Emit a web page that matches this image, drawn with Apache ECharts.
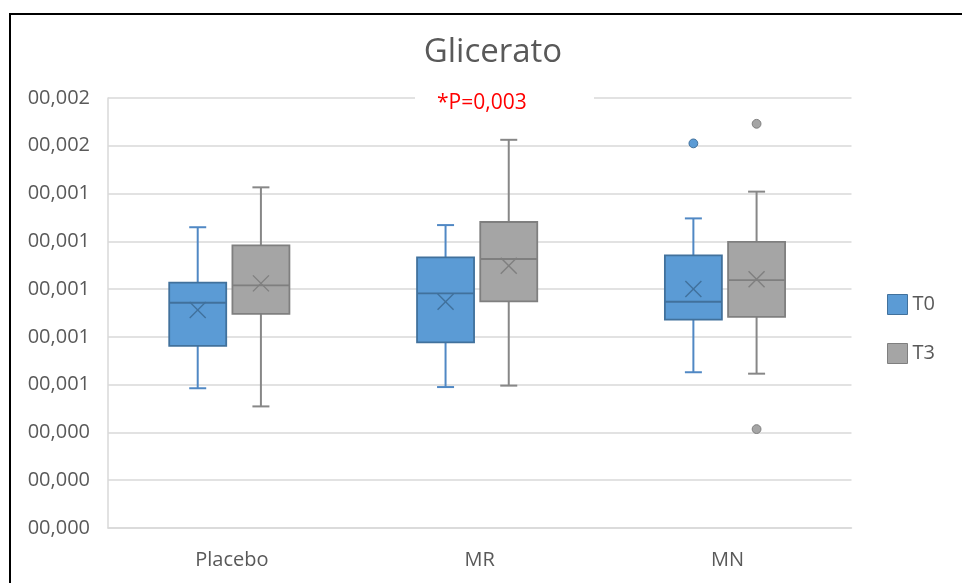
<!DOCTYPE html>
<html>
<head>
<meta charset="utf-8">
<script src="https://cdn.jsdelivr.net/npm/echarts@6/dist/echarts.min.js"></script>
<style>html,body{margin:0;padding:0;background:#fff;}#chart{width:962px;height:583px;}</style>
</head>
<body>
<div id="chart"></div>
<script>
// ---- data ----
const categories = ['Placebo', 'MR', 'MN'];
const yTickLabels = ['00,000', '00,000', '00,000', '00,001', '00,001', '00,001', '00,001', '00,001', '00,002', '00,002'];

const t0Min    = [0.000585, 0.000590, 0.000652];
const t0Q1     = [0.000762, 0.000777, 0.000872];
const t0Median = [0.000943, 0.000982, 0.000947];
const t0Q3     = [0.001027, 0.001133, 0.001141];
const t0Max    = [0.001259, 0.001268, 0.001296];
const t0Mean   = [0.000913, 0.000947, 0.001000];
const t0Outliers = [[2, 0.001610]];

const t3Min    = [0.000509, 0.000596, 0.000646];
const t3Q1     = [0.000896, 0.000949, 0.000884];
const t3Median = [0.001016, 0.001126, 0.001038];
const t3Q3     = [0.001183, 0.001281, 0.001198];
const t3Max    = [0.001426, 0.001625, 0.001408];
const t3Mean   = [0.001024, 0.001098, 0.001041];
const t3Outliers = [[2, 0.001692], [2, 0.000414]];

const annotation = '*P=0,003';

// ---- build ----
function rows(mn, q1, md, q3, mx, mean) {
  return categories.map((c, i) => [i, mn[i], q1[i], md[i], q3[i], mx[i], mean[i]]);
}

const FONT = '"Open Sans", "Noto Sans", sans-serif';
const styles = {
  T0: { fill: '#5b9bd5', border: '#41719c', whisker: '#5088c4', mean: '#41719c', offset: -34.2 },
  T3: { fill: '#a5a5a5', border: '#7f7f7f', whisker: '#878787', mean: '#7f7f7f', offset: 29 }
};

function boxRenderer(st) {
  return function (params, api) {
    const cat = api.value(0);
    const cx = api.coord([cat, 0])[0] + st.offset;
    const y = k => api.coord([cat, api.value(k)])[1];
    const yMin = y(1), yQ1 = y(2), yMed = y(3), yQ3 = y(4), yMax = y(5), yMean = y(6);
    const bw = 57, cap = 17, m = 8;
    const lineW = { stroke: st.whisker, lineWidth: 2 };
    return {
      type: 'group',
      children: [
        { type: 'line', shape: { x1: cx, y1: yMax, x2: cx, y2: yQ3 }, style: lineW },
        { type: 'line', shape: { x1: cx, y1: yQ1, x2: cx, y2: yMin }, style: lineW },
        { type: 'line', shape: { x1: cx - cap / 2, y1: yMax, x2: cx + cap / 2, y2: yMax }, style: lineW },
        { type: 'line', shape: { x1: cx - cap / 2, y1: yMin, x2: cx + cap / 2, y2: yMin }, style: lineW },
        { type: 'rect', shape: { x: cx - bw / 2, y: yQ3, width: bw, height: yQ1 - yQ3 },
          style: { fill: st.fill, stroke: st.border, lineWidth: 1.8 } },
        { type: 'line', shape: { x1: cx - bw / 2, y1: yMed, x2: cx + bw / 2, y2: yMed },
          style: { stroke: st.border, lineWidth: 1.8 } },
        { type: 'line', shape: { x1: cx - m, y1: yMean - m, x2: cx + m, y2: yMean + m },
          style: { stroke: st.mean, lineWidth: 1.4 } },
        { type: 'line', shape: { x1: cx - m, y1: yMean + m, x2: cx + m, y2: yMean - m },
          style: { stroke: st.mean, lineWidth: 1.4 } }
      ]
    };
  };
}

function outlierRenderer(st) {
  return function (params, api) {
    const p = api.coord([api.value(0), api.value(1)]);
    return { type: 'circle', shape: { cx: p[0] + st.offset, cy: p[1], r: 4.4 },
      style: { fill: st.fill, stroke: st.border, lineWidth: 1 } };
  };
}

const chart = echarts.init(document.getElementById('chart'), null, { renderer: 'canvas' });
chart.setOption({
  animation: false,
  backgroundColor: '#fff',
  title: {
    text: 'Glicerato', left: 488, textAlign: 'center', top: 31,
    textStyle: { fontFamily: FONT, fontSize: 33, fontWeight: 'normal', color: '#595959' }
  },
  legend: {
    orient: 'vertical', left: 887, top: 294, padding: 0, itemWidth: 20, itemHeight: 20, itemGap: 28,
    textStyle: { fontFamily: FONT, fontSize: 20, color: '#595959' },
    data: [
      { name: 'T0', icon: 'rect', itemStyle: { color: styles.T0.fill, borderColor: styles.T0.border, borderWidth: 1 } },
      { name: 'T3', icon: 'rect', itemStyle: { color: styles.T3.fill, borderColor: styles.T3.border, borderWidth: 1 } }
    ]
  },
  grid: { left: 108, right: 110.5, top: 98, bottom: 55, containLabel: false },
  xAxis: {
    type: 'category', data: categories,
    axisLine: { lineStyle: { color: '#d9d9d9', width: 1.5 } },
    axisTick: { show: false },
    axisLabel: { fontFamily: FONT, fontSize: 20, color: '#595959', margin: 22 },
    splitLine: { show: false }
  },
  yAxis: {
    type: 'value', min: 0, max: 0.0018, interval: 0.0002,
    axisLine: { show: true, lineStyle: { color: '#d9d9d9', width: 1.5 } },
    axisTick: { show: false },
    axisLabel: { fontFamily: FONT, fontSize: 20, color: '#595959', margin: 18,
      formatter: (v, i) => yTickLabels[i] },
    splitLine: { lineStyle: { color: '#d9d9d9', width: 1.5 } }
  },
  series: [
    { name: 'T0', type: 'custom', renderItem: boxRenderer(styles.T0), itemStyle: { color: styles.T0.fill },
      encode: { x: 0, y: [1, 2, 3, 4, 5, 6] }, data: rows(t0Min, t0Q1, t0Median, t0Q3, t0Max, t0Mean), z: 3 },
    { name: 'T3', type: 'custom', renderItem: boxRenderer(styles.T3), itemStyle: { color: styles.T3.fill },
      encode: { x: 0, y: [1, 2, 3, 4, 5, 6] }, data: rows(t3Min, t3Q1, t3Median, t3Q3, t3Max, t3Mean), z: 3 },
    { name: 'T0', type: 'custom', renderItem: outlierRenderer(styles.T0), itemStyle: { color: styles.T0.fill },
      encode: { x: 0, y: 1 }, data: t0Outliers, z: 4 },
    { name: 'T3', type: 'custom', renderItem: outlierRenderer(styles.T3), itemStyle: { color: styles.T3.fill },
      encode: { x: 0, y: 1 }, data: t3Outliers, z: 4 }
  ],
  graphic: [
    { type: 'rect', silent: true, z: 100, shape: { x: 10, y: 14, width: 1200, height: 1200 },
      style: { fill: 'none', stroke: '#000', lineWidth: 2 } },
    { type: 'rect', silent: true, z: 100, shape: { x: 415, y: 92, width: 179, height: 12 },
      style: { fill: '#fff' } },
    { type: 'text', silent: true, z: 101, x: 437, y: 103,
      style: { text: annotation, fill: '#ff0000', font: '21px ' + FONT, textVerticalAlign: 'middle', verticalAlign: 'middle' } }
  ]
});
</script>
</body>
</html>
